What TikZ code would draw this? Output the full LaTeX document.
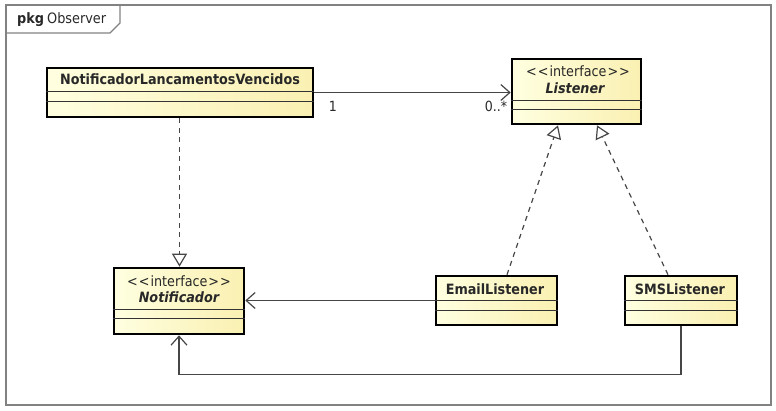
\documentclass[tikz,border=0pt]{standalone}
\usepackage{fontspec}
\setmainfont{DejaVu Sans Condensed}
\usetikzlibrary{calc,arrows.meta}
\definecolor{frm}{RGB}{130,130,130}
\definecolor{txt}{RGB}{40,40,40}
\definecolor{cream}{RGB}{255,255,224}
\definecolor{ylw}{RGB}{250,240,178}
\definecolor{conn}{RGB}{70,70,70}
\tikzset{
  classbox/.style={draw=black,line width=2.6pt,left color=cream,right color=ylw,minimum height=#1,inner sep=0pt},
  cname/.style={font=\fontsize{14.2}{15}\bfseries,text=txt,inner sep=0pt},
  iname/.style={font=\fontsize{14.2}{15}\bfseries\itshape,text=txt,inner sep=0pt},
  stereo/.style={font=\fontsize{14.2}{15}\selectfont,text=txt,inner sep=0pt},
  compline/.style={draw=black!80,line width=1.4pt},
  assoc/.style={draw=conn,line width=1.2pt,-{Straight Barb[length=9pt,width=16pt,line width=1.2pt]}},
  realize/.style={draw=conn,line width=1.2pt,dash pattern=on 5pt off 4.5pt,-{Triangle[open,length=13pt,width=15pt,line width=1.2pt]}},
  mult/.style={font=\fontsize{14}{15}\selectfont,text=txt,inner sep=0pt}
}
\begin{document}
\begin{tikzpicture}[x=1pt,y=-1pt]
\useasboundingbox (0,0) rectangle (776,411);
% frame
\draw[frm,line width=1.5pt] (6,5) rectangle (771,405);
\draw[frm,line width=1.3pt] (6,33) -- (110,33) -- (120,23) -- (120,5);
\node[anchor=west,inner sep=0pt,text=txt,font=\fontsize{14.3}{16}\selectfont] (pkg) at (17,20) {\textbf{pkg}\kern3pt Observer};
% classes
\node[classbox=49pt,minimum width=266pt] (nlv) at (180,92.5) {};
\node[classbox=65pt,minimum width=129pt] (lst) at (576.5,91.5) {};
\node[classbox=66pt,minimum width=130pt] (ntf) at (179,301) {};
\node[classbox=49pt,minimum width=121pt] (eml) at (496.5,300.5) {};
\node[classbox=49pt,minimum width=112pt] (sms) at (681,300.5) {};
% names
\node[cname] (nlvn) at ($(nlv.north)+(0,13)$) {NotificadorLancamentosVencidos};
\node[stereo] (lsts) at ($(lst.north)+(1.5,14)$) {<\kern1pt<\kern1pt interface\kern1pt>\kern1pt>};
\node[iname] (lstn) at ($(lst.north)+(-1.5,31)$) {Listener};
\node[stereo] (ntfs) at ($(ntf.north)+(0,15)$) {<\kern1pt<\kern1pt interface\kern1pt>\kern1pt>};
\node[iname] (ntfn) at ($(ntf.north)+(0,31)$) {Notificador};
\node[cname] (emln) at ($(eml.north)+(-1.5,15)$) {EmailListener};
\node[cname] (smsn) at ($(sms.north)+(-1,15)$) {SMSListener};
% compartments
\foreach \b/\a/\c in {nlv/25/35, lst/43/52, ntf/43/52, eml/26/36, sms/26/36}{
  \draw[compline] ($(\b.north west)+(0,\a)$) -- ($(\b.north east)+(0,\a)$);
  \draw[compline] ($(\b.north west)+(0,\c)$) -- ($(\b.north east)+(0,\c)$);
}
% connectors
\draw[assoc] (nlv.east) -- (nlv.east -| lst.west);
\node[mult] (m1) at (333,106) {1};
\node[mult] (m2) at (496,106) {0..*};
\draw[assoc] (eml.west) -- (eml.west -| ntf.east);
\coordinate (sb) at ($(sms.south)+(0,48)$);
\draw[assoc] (sms.south) -- (sb) -| (ntf.south);
\draw[realize] ($(ntf.north |- nlv.south)+(0.5,0)$) -- ($(ntf.north)+(0.5,0)$);
\draw[realize] ($(eml.north)+(10.5,0)$) -- ($(lst.south)+(-18.5,0)$);
\draw[realize] ($(sms.north)+(-13,0)$) -- ($(lst.south)+(20.5,0)$);
\end{tikzpicture}
\end{document}
